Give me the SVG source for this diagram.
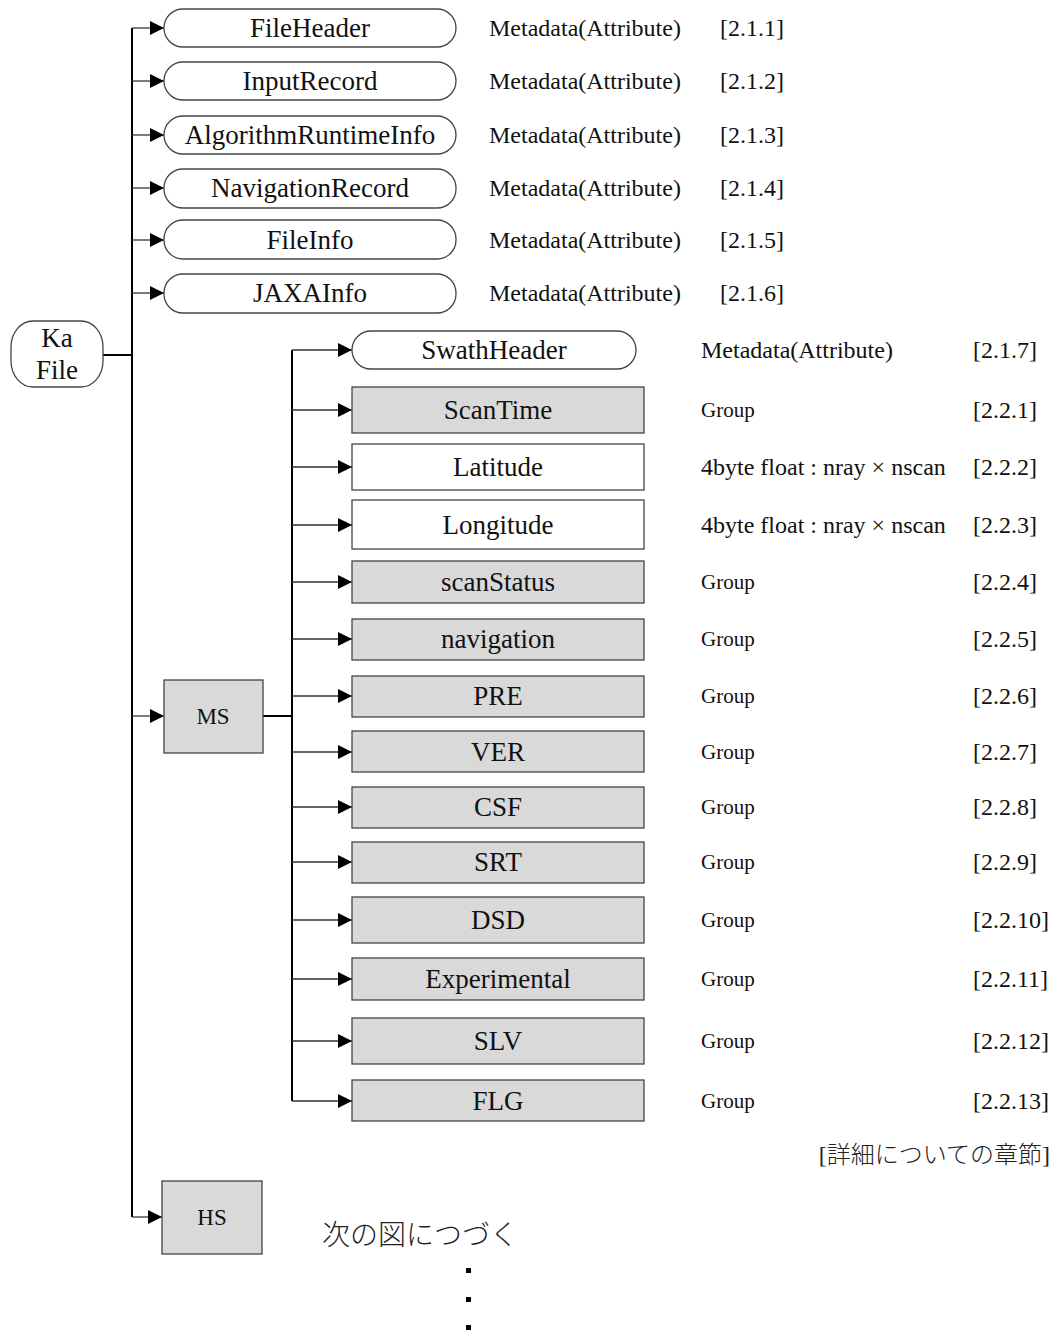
<svg xmlns="http://www.w3.org/2000/svg" width="1057" height="1332" viewBox="0 0 1057 1332">
<style>
.bg{fill:#fff}
.pill{fill:#fff;stroke:#444;stroke-width:1.3}
.box{fill:#fff;stroke:#444;stroke-width:1.3}
.grp{fill:#d9d9d9;stroke:#444;stroke-width:1.3}
.t{font-family:"Liberation Serif","Times New Roman",serif;fill:#111}
.n{font-size:27px;text-anchor:middle}
.s{font-size:23px;text-anchor:middle}
.m{font-size:24px}
.g{font-size:21px}
.trunk{stroke:#000;stroke-width:2;fill:none}
.br{stroke:#333;stroke-width:1.3;fill:none}
.jp{font-family:"Liberation Serif","Noto Sans CJK JP",serif;fill:#222;font-weight:300}
</style>
<defs>
<marker id="ah" markerUnits="userSpaceOnUse" markerWidth="15" markerHeight="15" refX="14" refY="7" orient="auto">
<path d="M0,0 L14,7 L0,14 z" fill="#000"/>
</marker>
</defs>
<rect class="bg" x="0" y="0" width="1057" height="1332"/>

<g id="connectors">
<line class="trunk" x1="103" y1="355" x2="132" y2="355"/>
<line class="trunk" x1="132" y1="28" x2="132" y2="1217"/>
<line class="br" x1="132" y1="28" x2="164" y2="28" marker-end="url(#ah)"/>
<line class="br" x1="132" y1="81" x2="164" y2="81" marker-end="url(#ah)"/>
<line class="br" x1="132" y1="135" x2="164" y2="135" marker-end="url(#ah)"/>
<line class="br" x1="132" y1="188" x2="164" y2="188" marker-end="url(#ah)"/>
<line class="br" x1="132" y1="240" x2="164" y2="240" marker-end="url(#ah)"/>
<line class="br" x1="132" y1="293" x2="164" y2="293" marker-end="url(#ah)"/>
<line class="br" x1="132" y1="716" x2="164" y2="716" marker-end="url(#ah)"/>
<line class="br" x1="132" y1="1217" x2="162" y2="1217" marker-end="url(#ah)"/>
<line class="trunk" x1="263" y1="716" x2="292" y2="716"/>
<line class="trunk" x1="292" y1="350" x2="292" y2="1101"/>
<line class="br" x1="292" y1="350" x2="352" y2="350" marker-end="url(#ah)"/>
<line class="br" x1="292" y1="410" x2="352" y2="410" marker-end="url(#ah)"/>
<line class="br" x1="292" y1="467" x2="352" y2="467" marker-end="url(#ah)"/>
<line class="br" x1="292" y1="525" x2="352" y2="525" marker-end="url(#ah)"/>
<line class="br" x1="292" y1="582" x2="352" y2="582" marker-end="url(#ah)"/>
<line class="br" x1="292" y1="639" x2="352" y2="639" marker-end="url(#ah)"/>
<line class="br" x1="292" y1="696" x2="352" y2="696" marker-end="url(#ah)"/>
<line class="br" x1="292" y1="752" x2="352" y2="752" marker-end="url(#ah)"/>
<line class="br" x1="292" y1="807" x2="352" y2="807" marker-end="url(#ah)"/>
<line class="br" x1="292" y1="862" x2="352" y2="862" marker-end="url(#ah)"/>
<line class="br" x1="292" y1="920" x2="352" y2="920" marker-end="url(#ah)"/>
<line class="br" x1="292" y1="979" x2="352" y2="979" marker-end="url(#ah)"/>
<line class="br" x1="292" y1="1041" x2="352" y2="1041" marker-end="url(#ah)"/>
<line class="br" x1="292" y1="1101" x2="352" y2="1101" marker-end="url(#ah)"/>
</g>

<g id="kafile">
<rect class="pill" x="11" y="321" width="92" height="66" rx="22" ry="26"/>
<text class="t n" x="57" y="347">Ka</text>
<text class="t n" x="57" y="379">File</text>
</g>

<g id="fileheader">
<rect class="pill" x="164" y="9" width="292" height="38" rx="19"/>
<text class="t n" x="310" y="37">FileHeader</text>
<text class="t m" x="489" y="36">Metadata(Attribute)</text>
<text class="t m" x="720" y="36">[2.1.1]</text>
</g>
<g id="inputrecord">
<rect class="pill" x="164" y="62" width="292" height="38" rx="19"/>
<text class="t n" x="310" y="90">InputRecord</text>
<text class="t m" x="489" y="89">Metadata(Attribute)</text>
<text class="t m" x="720" y="89">[2.1.2]</text>
</g>
<g id="algorithmruntimeinfo">
<rect class="pill" x="164" y="116" width="292" height="38" rx="19"/>
<text class="t n" x="310" y="144">AlgorithmRuntimeInfo</text>
<text class="t m" x="489" y="143">Metadata(Attribute)</text>
<text class="t m" x="720" y="143">[2.1.3]</text>
</g>
<g id="navigationrecord">
<rect class="pill" x="164" y="169" width="292" height="39" rx="19"/>
<text class="t n" x="310" y="197">NavigationRecord</text>
<text class="t m" x="489" y="196">Metadata(Attribute)</text>
<text class="t m" x="720" y="196">[2.1.4]</text>
</g>
<g id="fileinfo">
<rect class="pill" x="164" y="220" width="292" height="39" rx="19"/>
<text class="t n" x="310" y="249">FileInfo</text>
<text class="t m" x="489" y="248">Metadata(Attribute)</text>
<text class="t m" x="720" y="248">[2.1.5]</text>
</g>
<g id="jaxainfo">
<rect class="pill" x="164" y="274" width="292" height="39" rx="19"/>
<text class="t n" x="310" y="302">JAXAInfo</text>
<text class="t m" x="489" y="301">Metadata(Attribute)</text>
<text class="t m" x="720" y="301">[2.1.6]</text>
</g>

<g id="ms">
<rect class="grp" x="164" y="680" width="99" height="73"/>
<text class="t s" x="213" y="724">MS</text>
</g>
<g id="hs">
<rect class="grp" x="162" y="1181" width="100" height="73"/>
<text class="t s" x="212" y="1225">HS</text>
</g>

<g id="swathheader">
<rect class="pill" x="352" y="331" width="284" height="38" rx="19"/>
<text class="t n" x="494" y="359">SwathHeader</text>
<text class="t m" x="701" y="358">Metadata(Attribute)</text>
<text class="t m" x="973" y="358">[2.1.7]</text>
</g>
<g id="scantime">
<rect class="grp" x="352" y="387" width="292" height="46"/>
<text class="t n" x="498" y="419">ScanTime</text>
<text class="t g" x="701" y="417">Group</text>
<text class="t m" x="973" y="418">[2.2.1]</text>
</g>
<g id="latitude">
<rect class="box" x="352" y="444" width="292" height="46"/>
<text class="t n" x="498" y="476">Latitude</text>
<text class="t m" x="701" y="475">4byte float : nray × nscan</text>
<text class="t m" x="973" y="475">[2.2.2]</text>
</g>
<g id="longitude">
<rect class="box" x="352" y="500" width="292" height="49"/>
<text class="t n" x="498" y="534">Longitude</text>
<text class="t m" x="701" y="533">4byte float : nray × nscan</text>
<text class="t m" x="973" y="533">[2.2.3]</text>
</g>
<g id="scanstatus">
<rect class="grp" x="352" y="561" width="292" height="42"/>
<text class="t n" x="498" y="591">scanStatus</text>
<text class="t g" x="701" y="589">Group</text>
<text class="t m" x="973" y="590">[2.2.4]</text>
</g>
<g id="navigation">
<rect class="grp" x="352" y="619" width="292" height="41"/>
<text class="t n" x="498" y="648">navigation</text>
<text class="t g" x="701" y="646">Group</text>
<text class="t m" x="973" y="647">[2.2.5]</text>
</g>
<g id="pre">
<rect class="grp" x="352" y="676" width="292" height="41"/>
<text class="t n" x="498" y="705">PRE</text>
<text class="t g" x="701" y="703">Group</text>
<text class="t m" x="973" y="704">[2.2.6]</text>
</g>
<g id="ver">
<rect class="grp" x="352" y="731" width="292" height="41"/>
<text class="t n" x="498" y="761">VER</text>
<text class="t g" x="701" y="759">Group</text>
<text class="t m" x="973" y="760">[2.2.7]</text>
</g>
<g id="csf">
<rect class="grp" x="352" y="787" width="292" height="41"/>
<text class="t n" x="498" y="816">CSF</text>
<text class="t g" x="701" y="814">Group</text>
<text class="t m" x="973" y="815">[2.2.8]</text>
</g>
<g id="srt">
<rect class="grp" x="352" y="842" width="292" height="41"/>
<text class="t n" x="498" y="871">SRT</text>
<text class="t g" x="701" y="869">Group</text>
<text class="t m" x="973" y="870">[2.2.9]</text>
</g>
<g id="dsd">
<rect class="grp" x="352" y="897" width="292" height="46"/>
<text class="t n" x="498" y="929">DSD</text>
<text class="t g" x="701" y="927">Group</text>
<text class="t m" x="973" y="928">[2.2.10]</text>
</g>
<g id="experimental">
<rect class="grp" x="352" y="958" width="292" height="42"/>
<text class="t n" x="498" y="988">Experimental</text>
<text class="t g" x="701" y="986">Group</text>
<text class="t m" x="973" y="987">[2.2.11]</text>
</g>
<g id="slv">
<rect class="grp" x="352" y="1018" width="292" height="46"/>
<text class="t n" x="498" y="1050">SLV</text>
<text class="t g" x="701" y="1048">Group</text>
<text class="t m" x="973" y="1049">[2.2.12]</text>
</g>
<g id="flg">
<rect class="grp" x="352" y="1080" width="292" height="41"/>
<text class="t n" x="498" y="1110">FLG</text>
<text class="t g" x="701" y="1108">Group</text>
<text class="t m" x="973" y="1109">[2.2.13]</text>
</g>

<g id="notes">
<text class="jp" x="1050" y="1163" font-size="24" text-anchor="end">[詳細についての章節]</text>
<text class="jp" x="322" y="1245" font-size="28">次の図につづく</text>
<rect x="466" y="1268" width="5" height="5" fill="#000"/>
<rect x="466" y="1297" width="5" height="5" fill="#000"/>
<rect x="466" y="1325" width="5" height="5" fill="#000"/>
</g>
</svg>
